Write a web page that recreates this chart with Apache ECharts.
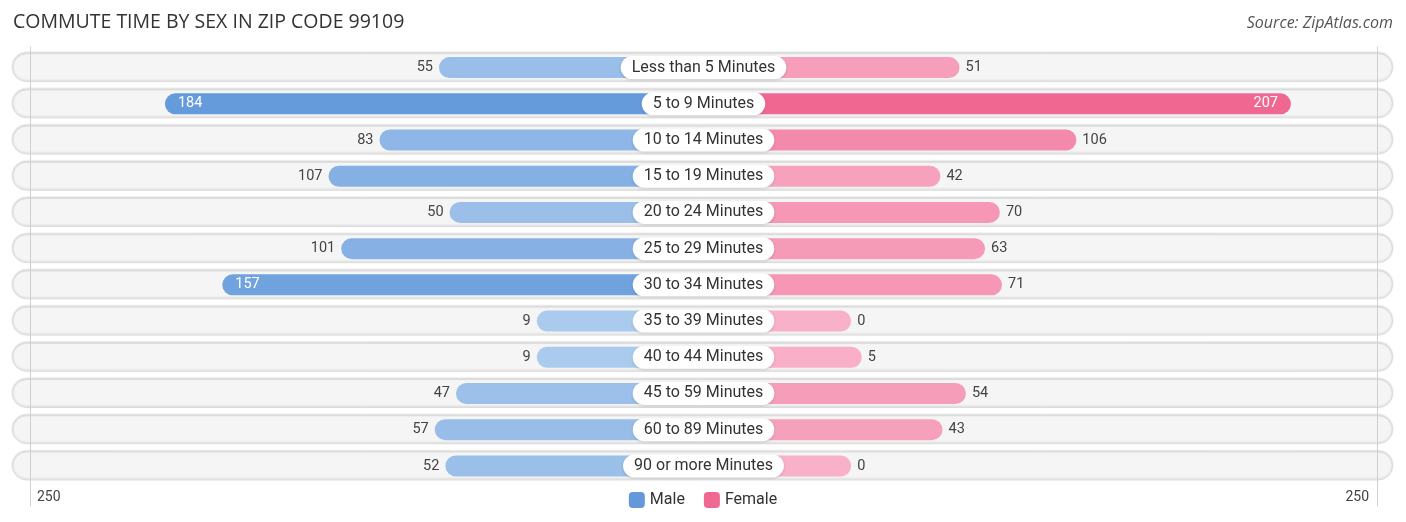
<!DOCTYPE html>
<html>
<head>
<meta charset="utf-8">
<script src="https://cdn.jsdelivr.net/npm/echarts@6/dist/echarts.min.js"></script>
<style>
  html, body { margin: 0; padding: 0; background: #fff; }
  #chart { width: 1406px; height: 522px; }
</style>
</head>
<body>
<div id="chart"></div>
<script>
const categories = [
  "Less than 5 Minutes", "5 to 9 Minutes", "10 to 14 Minutes", "15 to 19 Minutes",
  "20 to 24 Minutes", "25 to 29 Minutes", "30 to 34 Minutes", "35 to 39 Minutes",
  "40 to 44 Minutes", "45 to 59 Minutes", "60 to 89 Minutes", "90 or more Minutes"
];
const maleValues = [55, 184, 83, 107, 50, 101, 157, 9, 9, 47, 57, 52];
const femaleValues = [51, 207, 106, 42, 70, 63, 71, 0, 5, 54, 43, 0];
const axisTickLabel = "250";

// bars start under the centre label, so every value is pushed out by this much
const labelOffset = 69.5;
const axisEdge = 317;
const insideMin = 150;

const el = (id) => document.getElementById(id);

function mix(a, b, t) {
  const pa = [1, 3, 5].map(i => parseInt(a.slice(i, i + 2), 16));
  const pb = [1, 3, 5].map(i => parseInt(b.slice(i, i + 2), 16));
  return "rgb(" + pa.map((v, i) => Math.round(v + (pb[i] - v) * t)).join(",") + ")";
}
const maleColor = (v) => mix("#afcdef", "#6399da", Math.min(v / 190, 1));
const femaleColor = (v) => mix("#f8b1c8", "#f06892", Math.min(v / 200, 1));

function barItems(values, sign, colorFn) {
  return values.map(v => {
    const inside = v >= insideMin;
    return {
      value: sign * (v + labelOffset),
      raw: v,
      itemStyle: { color: colorFn(v) },
      label: inside
        ? { position: sign < 0 ? "insideLeft" : "insideRight", distance: 13, color: "#fff" }
        : { position: sign < 0 ? "left" : "right", distance: 6, color: "#444" }
    };
  });
}

const gridTop = 49.5, gridBottom = 38;

const chart = echarts.init(el("chart"));
chart.setOption({
  animation: false,
  textStyle: { fontFamily: "Roboto" },
  title: [
    { text: "COMMUTE TIME BY SEX IN ZIP CODE 99109", left: 8, top: 7,
      textStyle: { fontFamily: "Open Sans", fontSize: 19.5, fontWeight: 400, color: "#333" } },
    { text: "Source: ZipAtlas.com", right: 8, top: 10,
      textStyle: { fontFamily: "Open Sans", fontSize: 16, fontStyle: "italic", fontWeight: 400, color: "#555" } }
  ],
  legend: {
    data: ["Male", "Female"],
    left: "center", top: 487,
    icon: "roundRect", itemWidth: 16, itemHeight: 16, itemGap: 19,
    textStyle: { fontSize: 16, color: "#333" }
  },
  grid: [
    { left: 12, right: 13, top: gridTop, bottom: gridBottom },
    { left: 30, right: 29, top: gridTop, bottom: gridBottom },
    { left: 30, right: 29, top: 47, bottom: 16 }
  ],
  xAxis: [
    { gridIndex: 0, type: "value", min: 0, max: 1, show: false },
    { gridIndex: 1, type: "value", min: -axisEdge, max: axisEdge, interval: axisEdge,
      axisLine: { show: false }, axisTick: { show: false }, splitLine: { show: false },
      axisLabel: {
        margin: 6, fontSize: 14, color: "#444",
        alignMinLabel: "left", alignMaxLabel: "right", padding: [0, 8, 0, 7],
        formatter: (v) => v === 0 ? "" : axisTickLabel
      } },
    { gridIndex: 2, type: "value", min: 0, max: 1, show: false }
  ],
  yAxis: [
    { gridIndex: 0, type: "category", data: categories, inverse: true, show: false },
    { gridIndex: 1, type: "category", data: categories, inverse: true, show: false },
    { gridIndex: 2, type: "value", position: "left", z: 2, axisLabel: { show: false }, axisTick: { show: false },
      splitLine: { show: false }, axisLine: { show: true, lineStyle: { color: "#d0d0d0" } } },
    { gridIndex: 2, type: "value", position: "right", z: 2, axisLabel: { show: false }, axisTick: { show: false },
      splitLine: { show: false }, axisLine: { show: true, lineStyle: { color: "#d0d0d0" } } }
  ],
  series: [
    {
      name: "rows", type: "bar", xAxisIndex: 0, yAxisIndex: 0, z: 1,
      data: categories.map(() => 1), barWidth: 29, silent: true,
      itemStyle: {
        color: "#f5f5f5", borderColor: "#dcdcdc", borderWidth: 1, borderRadius: 14.5,
        shadowColor: "rgba(0,0,0,0.15)", shadowBlur: 2, shadowOffsetY: -1
      }
    },
    {
      name: "Male", type: "bar", xAxisIndex: 1, yAxisIndex: 1, z: 3,
      data: barItems(maleValues, -1, maleColor), barWidth: 21, barGap: "-100%",
      itemStyle: { color: "#6399da", borderRadius: 10.5 },
      label: { show: true, fontSize: 14.5, formatter: (p) => p.data.raw }
    },
    {
      name: "Female", type: "bar", xAxisIndex: 1, yAxisIndex: 1, z: 3,
      data: barItems(femaleValues, 1, femaleColor), barWidth: 21, barGap: "-100%",
      itemStyle: { color: "#f06892", borderRadius: 10.5 },
      label: { show: true, fontSize: 14.5, formatter: (p) => p.data.raw }
    },
    {
      name: "labels", type: "scatter", xAxisIndex: 1, yAxisIndex: 1, z: 5,
      data: categories.map(c => [0, c]), symbolSize: 1, silent: true,
      itemStyle: { color: "#fff", opacity: 1 },
      label: {
        show: true, position: "inside", formatter: (p) => p.value[1],
        fontSize: 16, color: "#333", backgroundColor: "#fff", opacity: 1,
        padding: [4, 11, 3, 11], borderRadius: 12,
        shadowColor: "rgba(0,0,0,0.15)", shadowBlur: 3, shadowOffsetY: 1
      }
    }
  ]
});
</script>
</body>
</html>
